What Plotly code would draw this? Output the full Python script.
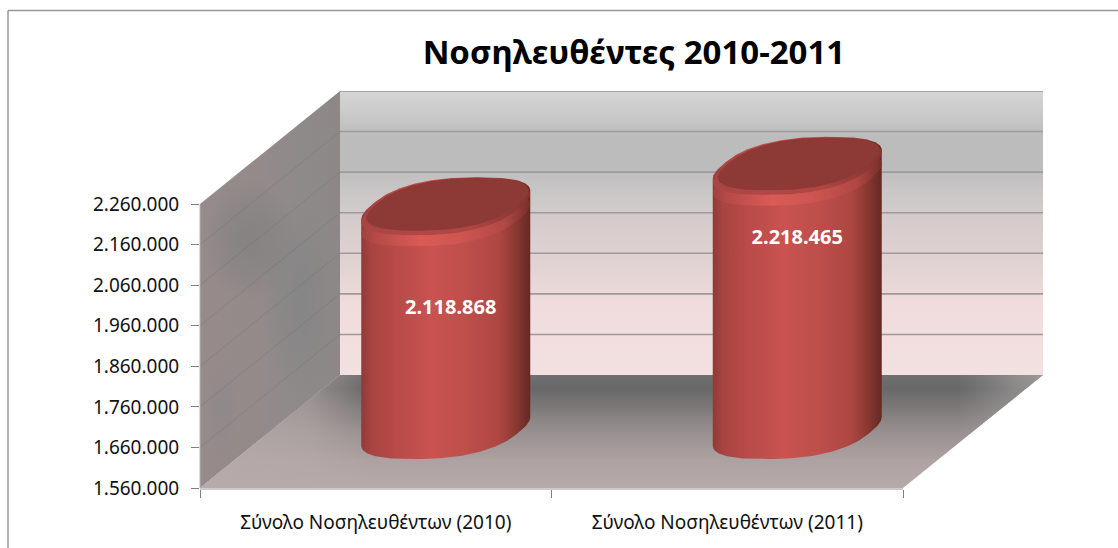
import numpy as np
import plotly.graph_objects as go

# ---- data ----
categories = ["Σύνολο Νοσηλευθέντων (2010)", "Σύνολο Νοσηλευθέντων (2011)"]
values = [2118868, 2218465]
value_labels = ["2.118.868", "2.218.465"]
label_heights = [1862000, 2034500]
label_centers = [0.514, 1.5]
tick_values = [1560000, 1660000, 1760000, 1860000, 1960000, 2060000, 2160000, 2260000]
tick_labels = ["1.560.000", "1.660.000", "1.760.000", "1.860.000", "1.960.000", "2.060.000", "2.160.000", "2.260.000"]
title_text = "Νοσηλευθέντες 2010-2011"

# ---- layout geometry (pixels of the 1118x548 page) ----
W, H = 1118, 548
FX0, FX1, FY0, FY1 = 200, 903, 488, 204     # front plane
DX, DY = 140, 113                           # depth shift
VMIN, VMAX = tick_values[0], tick_values[-1]
FONT = "Noto Sans"


def dom_x(a, b):
    return [a / W, b / W]


def dom_y(bottom, top):
    return [1 - bottom / H, 1 - top / H]


fig = go.Figure()


def poly(xs, ys, xa="x", ya="y", color=None, grad=None):
    kw = dict(x=xs, y=ys, xaxis=xa, yaxis=ya, fill="toself", hoverinfo="skip", showlegend=False,
              mode="lines", line=dict(width=0))
    if color:
        kw["fillcolor"] = color
    if grad:
        kw["fillgradient"] = grad
    fig.add_trace(go.Scatter(**kw))


# ---- room: walls and floor (subplot x/y is a page-pixel frame) ----
bx0, bx1, by0, by1 = FX0 + DX, FX1 + DX, FY0 - DY, FY1 - DY


def v_scale(pos, top, bot):
    return [bot + (top - bot) * (v - VMIN) / (VMAX - VMIN) for v in pos]


back_stops = [[0, "#d6d6d6"], [0.09, "#c8c8c8"], [0.16, "#bcbcbc"], [0.27, "#bdbcbc"], [0.38, "#cdc9c9"],
              [0.5, "#d9cdcd"], [0.63, "#e3d4d4"], [0.75, "#f0dcdd"], [1, "#f3e0e1"]]
poly([bx0, bx1, bx1, bx0, bx0], [by1, by1, by0, by0, by1],
     grad=dict(type="vertical", start=by1, stop=by0, colorscale=back_stops))

# side wall
side_x, side_y = [FX0, bx0, bx0, FX0, FX0], [FY1, by1, by0, FY0, FY1]
poly(side_x, side_y, grad=dict(type="horizontal", start=FX0, stop=bx0, colorscale=[
    [0, "#958b8b"], [0.35, "#958a8a"], [0.7, "#8f8a8a"], [1, "#8d8887"]]))
tt = np.linspace(0, 2 * np.pi, 60)
for (cx, cy, rx, ry, col) in [(250, 240, 48, 62, "122,124,124"), (300, 300, 38, 100, "126,130,130"),
                              (222, 410, 20, 50, "140,136,136")]:
    poly(cx + rx * np.cos(tt), cy + ry * np.sin(tt),
         grad=dict(type="radial", colorscale=[[0, f"rgba({col},0.55)"], [0.5, f"rgba({col},0.35)"], [1, f"rgba({col},0)"]]))

# floor
floor_x, floor_y = [FX0, bx0, bx1, FX1, FX0], [FY0, by0, by0, FY0, FY0]
poly(floor_x, floor_y, grad=dict(type="vertical", start=by0, stop=FY0, colorscale=[
    [0, "#6f6f6f"], [0.12, "#686868"], [0.3, "#7f7a7a"], [0.5, "#989090"], [0.75, "#ada1a1"], [1, "#b6aaaa"]]))
poly(floor_x, floor_y, grad=dict(type="horizontal", start=FX0, stop=bx1, colorscale=[
    [0, "rgba(182,170,170,0.9)"], [0.13, "rgba(182,170,170,0.6)"], [0.2, "rgba(182,170,170,0)"],
    [0.9, "rgba(170,165,165,0)"], [0.97, "rgba(175,170,170,0.5)"], [1, "rgba(175,170,170,0.7)"]]))

# faint gridlines on the side wall
front_px = v_scale(tick_values, FY1, FY0)
back_px = v_scale(tick_values, by1, by0)
for f, b in zip(front_px[1:-1], back_px[1:-1]):
    fig.add_trace(go.Scatter(x=[FX0, bx0], y=[f, b], mode="lines", xaxis="x", yaxis="y", hoverinfo="skip",
                             showlegend=False, line=dict(color="rgba(105,110,110,0.3)", width=1)))
fig.add_trace(go.Scatter(x=[FX0, FX0], y=[FY1, FY0], mode="lines", xaxis="x", yaxis="y", hoverinfo="skip",
                         showlegend=False, line=dict(color="#b5b5b5", width=1)))

# ---- gridlines on the back wall, subplot x2/y2 ----
for v in tick_values[1:]:
    fig.add_trace(go.Scatter(x=[0, 2], y=[v, v], mode="lines", xaxis="x2", yaxis="y2", hoverinfo="skip",
                             showlegend=False, line=dict(color="#9f9999", width=1.6)))
fig.add_trace(go.Scatter(x=[0, 2], y=[VMAX, VMAX], mode="lines", xaxis="x2", yaxis="y2", hoverinfo="skip",
                         showlegend=False, cliponaxis=False, line=dict(color="#a3a3a3", width=1.5)))

# ---- front axes, subplot x3/y3 ----
fig.add_trace(go.Scatter(x=[0.5, 1.5], y=values, mode="markers", marker=dict(opacity=0), xaxis="x3", yaxis="y3",
                         hoverinfo="skip", showlegend=False))

# ---- cylinders, subplot x4/y4: axes of the mid-depth plane ----
px_per_x = (FX1 - FX0) / 2
px_per_v = (FY0 - FY1) / (VMAX - VMIN)
POW = 0.8


def spow(u):
    return np.sign(u) * np.abs(u) ** POW


grid = np.linspace(0, 2 * np.pi, 721)
raw_x = 78 * spow(np.cos(grid)) + 33.6 * spow(np.sin(grid))
k_fit = 84.5 / raw_x.max()
A = 78 * k_fit / px_per_x
B = 33.6 * k_fit / px_per_x
C = 27.5 / px_per_v
t0 = grid[np.argmax(raw_x)]
side_scale = [[0, "#8f3a38"], [0.06, "#a84442"], [0.2, "#b84a48"], [0.42, "#c95350"], [0.62, "#be4f4b"],
              [0.82, "#ad4642"], [0.93, "#84362f"], [1, "#642825"]]
band_scale = [[0, "#9c423f"], [0.08, "#b44a47"], [0.35, "#da5b56"], [0.6, "#cd5551"], [0.85, "#b04844"], [1, "#772f2b"]]
rim_scale = [[0, "#a84543"], [0.3, "#b24745"], [0.65, "#b04643"], [1, "#82342f"]]


def ell(cx, cy, t, k=1.0):
    return cx + k * (A * spow(np.cos(t)) + B * spow(np.sin(t))), cy + k * C * spow(np.sin(t))


centers = [0.5, 1.5]
for cx, val in zip(centers, values):
    t = np.linspace(t0, t0 - np.pi, 120)
    bx, by = ell(cx, VMIN, t)
    t2 = np.linspace(t0 - np.pi, t0 - 2 * np.pi, 120)
    tx, ty = ell(cx, val, t2)
    poly(np.r_[bx, tx, bx[0]], np.r_[by, ty, by[0]], "x4", "y4",
         grad=dict(type="horizontal", colorscale=side_scale))
    full = np.linspace(0, 2 * np.pi, 240)
    ex, ey = ell(cx, val - 14 / px_per_v, full)
    poly(ex, ey, "x4", "y4", grad=dict(type="horizontal", colorscale=band_scale))
    ex, ey = ell(cx, val - 3 / px_per_v, full)
    poly(ex, ey, "x4", "y4", grad=dict(type="horizontal", colorscale=rim_scale))
    ex, ey = ell(cx + 1.5 / px_per_x, val + 0.5 / px_per_v, full, 0.96)
    poly(ex, ey, "x4", "y4", color="#8d3a37")

fig.add_trace(go.Scatter(x=label_centers, y=label_heights, text=value_labels, mode="text", xaxis="x4", yaxis="y4",
                         textposition="middle center", hoverinfo="skip", showlegend=False,
                         textfont=dict(family=FONT, size=20, color="#ffffff", weight="bold")))

# y4 runs past the plane so the elliptical ends are not clipped
pad_px = 70
pad_v = pad_px / px_per_v
hidden = dict(visible=False, fixedrange=True)
fig.update_layout(
    width=W, height=H, autosize=False, margin=dict(l=0, r=0, t=0, b=0, pad=0, autoexpand=False),
    paper_bgcolor="#ffffff", plot_bgcolor="rgba(0,0,0,0)", showlegend=False,
    font=dict(family=FONT, color="#111111"),
    title=dict(text=title_text, x=634 / W, xanchor="center", y=1 - 52 / H, yanchor="middle",
               font=dict(family=FONT, size=33, color="#000000", weight="bold")),
    xaxis=dict(domain=[0, 1], range=[0, W], **hidden),
    yaxis=dict(domain=[0, 1], range=[H, 0], **hidden),
    xaxis2=dict(domain=dom_x(bx0, bx1), range=[0, 2], anchor="y2", **hidden),
    yaxis2=dict(domain=dom_y(by0, by1), range=[VMIN, VMAX], anchor="x2", **hidden),
    xaxis3=dict(domain=dom_x(FX0, FX1), range=[0, 2], anchor="y3", fixedrange=True, showgrid=False, zeroline=False,
                tickmode="array", tickvals=centers, ticktext=categories, ticks="", ticklabelstandoff=16,
                tickfont=dict(family=FONT, size=19, color="#111111"),
                showline=True, linecolor="#cccccc", linewidth=2,
                minor=dict(tickmode="array", tickvals=[0, 1, 2], ticks="outside", ticklen=8, tickcolor="#808080", tickwidth=1)),
    yaxis3=dict(domain=dom_y(FY0, FY1), range=[VMIN, VMAX], anchor="x3", fixedrange=True, showgrid=False, zeroline=False,
                tickmode="array", tickvals=tick_values, ticktext=tick_labels, ticks="outside", ticklen=8,
                tickcolor="#808080", tickwidth=1, ticklabelstandoff=8,
                tickfont=dict(family=FONT, size=19, color="#111111")),
    xaxis4=dict(domain=dom_x(FX0 + DX / 2, FX1 + DX / 2), range=[0, 2], anchor="y4", **hidden),
    yaxis4=dict(domain=dom_y(FY0 - DY / 2 + pad_px, FY1 - DY / 2 - pad_px), range=[VMIN - pad_v, VMAX + pad_v], anchor="x4", **hidden),
    shapes=[
        dict(type="line", xref="paper", yref="paper", x0=8 / W, x1=1, y0=1 - 10.5 / H, y1=1 - 10.5 / H,
             line=dict(color="#999999", width=1.5)),
        dict(type="line", xref="paper", yref="paper", x0=8 / W, x1=8 / W, y0=0, y1=1 - 10.5 / H,
             line=dict(color="#999999", width=1.5)),
    ],
)

fig.write_html("out.html", config=dict(displayModeBar=False),
               post_script="document.body.style.margin='0';document.body.style.overflow='hidden';")
